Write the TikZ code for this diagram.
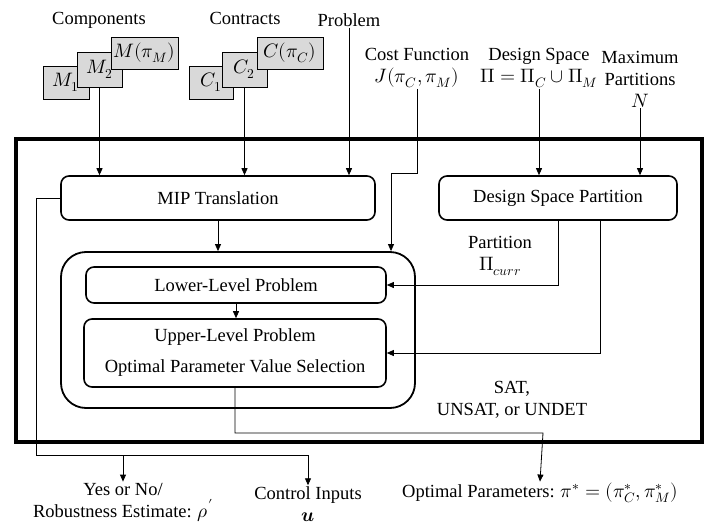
\documentclass[tikz,border=0pt]{standalone}
\usepackage{amsmath}
\usepackage{unicode-math}
\setmainfont{Liberation Serif}
\setmathfont{Latin Modern Math}[Scale=1.05]
\usetikzlibrary{shapes.geometric, arrows.meta}
\tikzstyle{block} = [rectangle, draw, line width=1.6pt, rounded corners=8pt, inner sep=0pt, text centered]
\tikzstyle{stackbox} = [rectangle, draw, line width=0.9pt, fill=gray!30, inner sep=0pt, text centered]
\tikzstyle{label} = [align=center, inner sep=1pt]
\tikzstyle{arrow} = [line width=0.8pt,->,>={Triangle[length=7pt,width=6pt]}]
\tikzstyle{wire} = [line width=0.8pt]

\begin{document}
\fontsize{18.5}{22}\selectfont
\begin{tikzpicture}[x=1pt, y=-1pt, font=\fontsize{18.5}{22}\selectfont]
            \useasboundingbox (0,0) rectangle (718,530);
            % outer frame
            \draw [line width=4pt] (16,139) rectangle (702,442);

            % inputs
            \node [label] at (99,20) (comp) {Components};
            \node [stackbox, minimum width=46pt, minimum height=33pt] at (66,82.5) (m1) {$M_1$};
            \node [stackbox, minimum width=45pt, minimum height=35pt] at (99.5,69.5) (m2) {$M_2$};
            \node [stackbox, minimum width=67pt, minimum height=32pt] at (144.5,53) (mpi) {$M(\pi_M)$};
            \node [label] at (245,18) (contr) {Contracts};
            \node [stackbox, minimum width=44pt, minimum height=33pt] at (211,82.5) (c1) {$C_1$};
            \node [stackbox, minimum width=45pt, minimum height=35pt] at (244.5,69.5) (c2) {$C_2$};
            \node [stackbox, minimum width=66pt, minimum height=32pt] at (290,53) (cpi) {$C(\pi_C)$};
            \node [label] at (349,20) (prob) {Problem};
            \node [label] at (417,68) (cost) {Cost Function\\$J(\pi_C,\pi_M)$};
            \node [label] at (539,68) (dspace) {Design Space\\$\Pi=\Pi_C\cup\Pi_M$};
            \node [label] at (640,79) (maxpart) {Maximum\\Partitions\\$N$};

            % main blocks
            \node [block, minimum width=314pt, minimum height=44pt] at (218,198) (mip) {MIP Translation};
            \node [block, minimum width=238pt, minimum height=44pt] at (558,198) (dsp) {Design Space Partition};
            \node [block, line width=1.8pt, rounded corners=25pt, minimum width=354pt, minimum height=156pt] at (238,330) (bilevel) {};
            \node [block, minimum width=300pt, minimum height=36pt] at (236,285) (lower) {Lower-Level Problem};
            \node [block, minimum width=302pt, minimum height=68pt, align=center] at (235,353) (upper) {Upper-Level Problem\\[9pt]Optimal Parameter Value Selection};

            % labels on connectors
            \node [label] at (500,256) (partlbl) {Partition\\$\Pi_{curr}$};
            \node [label] at (512,400) (satlbl) {SAT,\\UNSAT, or UNDET};

            % outputs
            \node [label] at (123,502) (yesno) {Yes or No/\\Robustness Estimate: $\rho'$};
            \node [label] at (308,504) (ctrl) {Control Inputs\\$\symbfit{u}$};
            \node [label] at (540,493) (opt) {Optimal Parameters: $\pi^*=(\pi_C^*,\pi_M^*)$};

            \coordinate (costbend) at (391,173);
            \coordinate (lcorner) at (36,455);
            \coordinate (ctrlbend) at (308,455);
            \coordinate (optbend) at (543,433);

            \draw [arrow] (m2.south) -- (m2.south |- mip.north);
            \draw [arrow] (c2.south) -- (c2.south |- mip.north);
            \draw [arrow] (prob) -- (prob |- mip.north);
            \draw [arrow] (cost.south) |- (costbend) -- (costbend |- bilevel.north);
            \draw [arrow] (dspace) -- (dspace |- dsp.north);
            \draw [arrow] (maxpart) -- (maxpart |- dsp.north);
            \draw [arrow] (mip.south) -- (mip.south |- bilevel.north);
            \draw [arrow] (lower.south) -- (lower.south |- upper.north);
            \draw [arrow] (dsp.south) |- (lower.east);
            \draw [arrow] ([xshift=42pt]dsp.south) |- (upper.east);
            \draw [wire] (mip.west) -| (lcorner) -- (ctrlbend);
            \draw [arrow] (ctrlbend) -- (ctrl.north);
            \draw [arrow] (yesno.north |- lcorner) -- (yesno.north);
            \draw [arrow] (upper.south) |- (optbend) -- (opt.north);
            \end{tikzpicture}
\end{document}
